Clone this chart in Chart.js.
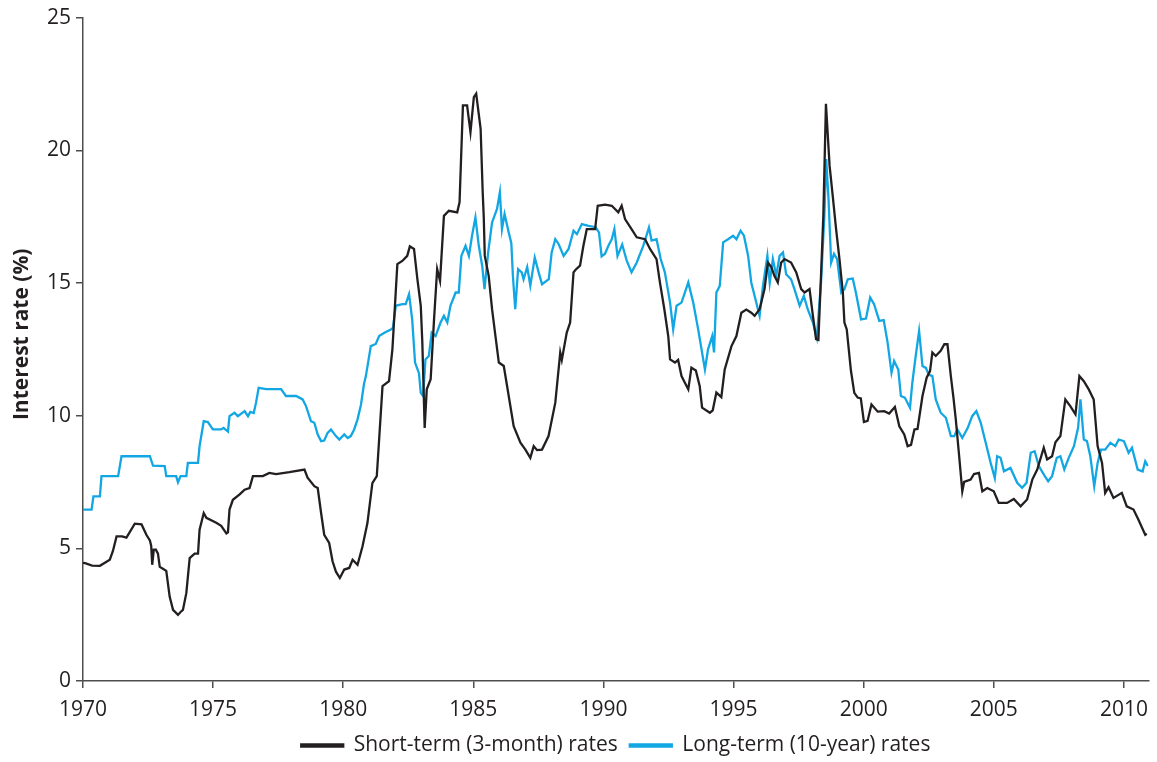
<!DOCTYPE html>
<html>
<head>
<meta charset="utf-8">
<script src="https://cdn.jsdelivr.net/npm/chart.js@4.4.1/dist/chart.umd.min.js"></script>
<style>
html,body{margin:0;padding:0;background:#fff;}
#wrap{width:1157px;height:762px;}
</style>
</head>
<body>
<div id="wrap"><canvas id="c" width="1157" height="762"></canvas></div>
<script>
const seriesNames = ["Short-term (3-month) rates", "Long-term (10-year) rates"];
const yAxisTitle = "Interest rate (%)";
const xTicks = [1970, 1975, 1980, 1985, 1990, 1995, 2000, 2005, 2010];
const yTicks = [0, 5, 10, 15, 20, 25];

const shortYears = [1970.0,1970.08,1970.35,1970.65,1971.03,1971.15,1971.29,1971.5,1971.67,1971.99,1972.25,1972.44,1972.57,1972.62,1972.66,1972.72,1972.8,1972.88,1972.95,1973.04,1973.2,1973.33,1973.46,1973.65,1973.75,1973.84,1973.97,1974.1,1974.29,1974.42,1974.48,1974.64,1974.74,1975.12,1975.31,1975.51,1975.57,1975.63,1975.76,1976.02,1976.21,1976.4,1976.53,1976.91,1977.16,1977.42,1977.93,1978.51,1978.63,1978.89,1979.02,1979.15,1979.27,1979.46,1979.59,1979.72,1979.87,1980.04,1980.23,1980.36,1980.55,1980.74,1980.93,1981.12,1981.29,1981.38,1981.51,1981.76,1981.89,1982.08,1982.27,1982.46,1982.56,1982.72,1982.85,1982.98,1983.04,1983.13,1983.21,1983.36,1983.49,1983.61,1983.72,1983.87,1984.06,1984.38,1984.47,1984.6,1984.76,1984.89,1985.02,1985.11,1985.28,1985.36,1985.4,1985.44,1985.59,1985.72,1985.85,1985.98,1986.17,1986.36,1986.55,1986.81,1987.0,1987.19,1987.32,1987.45,1987.64,1987.89,1988.15,1988.34,1988.4,1988.59,1988.72,1988.85,1988.93,1989.1,1989.23,1989.36,1989.68,1989.78,1990.06,1990.32,1990.57,1990.7,1990.83,1991.08,1991.28,1991.6,1991.79,1992.04,1992.17,1992.34,1992.49,1992.56,1992.75,1992.87,1993.0,1993.13,1993.26,1993.38,1993.55,1993.7,1993.79,1994.09,1994.2,1994.34,1994.53,1994.66,1994.92,1995.11,1995.3,1995.49,1995.68,1995.81,1996.0,1996.19,1996.32,1996.45,1996.57,1996.7,1996.83,1996.96,1997.21,1997.41,1997.6,1997.73,1997.92,1998.05,1998.17,1998.26,1998.36,1998.45,1998.55,1998.69,1998.81,1998.94,1999.07,1999.2,1999.26,1999.35,1999.51,1999.64,1999.77,1999.89,2000.01,2000.15,2000.3,2000.54,2000.79,2000.98,2001.2,2001.37,2001.56,2001.69,2001.82,2001.95,2002.07,2002.26,2002.42,2002.55,2002.64,2002.77,2002.96,2003.1,2003.22,2003.35,2003.45,2003.54,2003.67,2003.79,2003.86,2004.11,2004.24,2004.43,2004.56,2004.75,2005.0,2005.19,2005.51,2005.77,2006.03,2006.28,2006.48,2006.67,2006.92,2007.05,2007.24,2007.37,2007.56,2007.75,2007.94,2008.14,2008.29,2008.46,2008.65,2008.84,2008.99,2009.16,2009.28,2009.41,2009.6,2009.92,2010.11,2010.37,2010.56,2010.82,2010.88];
const shortRates = [4.45,4.44,4.35,4.34,4.57,4.9,5.45,5.45,5.4,5.93,5.9,5.5,5.3,5.1,4.38,4.95,4.95,4.8,4.3,4.25,4.15,3.18,2.68,2.49,2.6,2.68,3.31,4.63,4.8,4.8,5.7,6.33,6.15,5.96,5.85,5.56,5.6,6.46,6.83,7.03,7.21,7.27,7.72,7.72,7.84,7.8,7.87,7.97,7.66,7.34,7.27,6.33,5.51,5.2,4.51,4.12,3.88,4.2,4.26,4.57,4.38,5.07,5.95,7.46,7.72,9.1,11.11,11.3,12.5,15.71,15.83,16.02,16.38,16.28,15.14,14.14,12.75,9.54,10.99,11.37,13.63,15.52,15.08,17.53,17.72,17.66,18.04,21.69,21.69,20.68,22.0,22.13,20.81,18.42,17.5,16.02,15.27,14.01,13.0,12.0,11.87,10.74,9.6,8.98,8.72,8.41,8.85,8.7,8.72,9.23,10.49,12.38,12.1,13.13,13.51,15.4,15.5,15.65,16.4,17.03,17.03,17.91,17.95,17.91,17.66,17.91,17.41,17.03,16.72,16.65,16.28,15.9,15.02,14.01,13.0,12.12,12.0,12.1,11.49,11.24,10.99,11.81,11.7,11.11,10.3,10.11,10.2,10.87,10.7,11.74,12.62,13.0,13.88,14.0,13.88,13.76,14.01,14.77,15.77,15.6,15.27,15.02,15.77,15.9,15.77,15.4,14.77,14.64,14.77,13.76,12.88,12.85,15.27,17.53,21.75,19.42,18.29,17.03,15.9,14.64,13.51,13.25,11.7,10.86,10.68,10.65,9.76,9.8,10.42,10.15,10.17,10.08,10.33,9.6,9.29,8.85,8.9,9.48,9.5,10.74,11.43,11.68,12.38,12.25,12.44,12.69,12.69,11.49,10.68,9.86,8.47,7.15,7.5,7.59,7.8,7.84,7.15,7.27,7.15,6.71,6.71,6.86,6.58,6.84,7.59,7.97,8.79,8.35,8.47,9.0,9.23,10.61,10.36,10.05,11.49,11.3,10.99,10.61,8.85,8.22,7.09,7.3,6.9,7.09,6.58,6.46,6.08,5.51,5.55];

const longYears = [1970.0,1970.33,1970.4,1970.65,1970.71,1971.35,1971.48,1972.57,1972.69,1973.14,1973.2,1973.58,1973.65,1973.75,1973.97,1974.03,1974.42,1974.48,1974.64,1974.8,1974.99,1975.31,1975.4,1975.57,1975.63,1975.82,1975.95,1976.21,1976.34,1976.43,1976.56,1976.65,1976.75,1977.04,1977.61,1977.8,1978.19,1978.44,1978.57,1978.76,1978.89,1979.02,1979.15,1979.27,1979.4,1979.53,1979.72,1979.85,1980.04,1980.17,1980.29,1980.42,1980.55,1980.68,1980.8,1980.87,1981.06,1981.25,1981.38,1981.6,1981.83,1981.91,1982.02,1982.27,1982.4,1982.53,1982.65,1982.76,1982.91,1982.98,1983.07,1983.16,1983.29,1983.4,1983.55,1983.74,1983.87,1984.0,1984.12,1984.32,1984.44,1984.54,1984.7,1984.83,1984.95,1985.08,1985.21,1985.34,1985.43,1985.57,1985.72,1985.91,1986.02,1986.1,1986.2,1986.36,1986.46,1986.52,1986.61,1986.72,1986.86,1986.93,1987.07,1987.19,1987.36,1987.51,1987.64,1987.9,1988.01,1988.15,1988.28,1988.47,1988.66,1988.85,1988.98,1989.17,1989.43,1989.7,1989.83,1989.93,1990.06,1990.19,1990.32,1990.42,1990.54,1990.72,1990.89,1991.08,1991.28,1991.53,1991.75,1991.85,1992.04,1992.2,1992.36,1992.56,1992.68,1992.81,1993.0,1993.26,1993.45,1993.64,1993.9,1994.02,1994.18,1994.25,1994.34,1994.47,1994.6,1994.79,1994.98,1995.11,1995.27,1995.4,1995.56,1995.68,1995.81,1996.0,1996.13,1996.3,1996.39,1996.51,1996.64,1996.77,1996.9,1997.02,1997.21,1997.34,1997.54,1997.7,1997.85,1998.05,1998.2,1998.36,1998.49,1998.56,1998.65,1998.75,1998.86,1998.98,1999.14,1999.26,1999.39,1999.58,1999.7,1999.9,2000.09,2000.25,2000.4,2000.6,2000.77,2000.92,2001.07,2001.17,2001.33,2001.43,2001.58,2001.78,2001.87,2002.0,2002.13,2002.26,2002.39,2002.5,2002.64,2002.77,2002.96,2003.16,2003.35,2003.48,2003.6,2003.79,2004.0,2004.17,2004.33,2004.5,2004.69,2004.88,2005.04,2005.13,2005.26,2005.39,2005.64,2005.9,2006.09,2006.26,2006.42,2006.57,2006.73,2006.96,2007.09,2007.24,2007.42,2007.56,2007.71,2007.88,2008.08,2008.24,2008.33,2008.46,2008.58,2008.71,2008.86,2008.99,2009.12,2009.28,2009.48,2009.67,2009.8,2010.0,2010.18,2010.31,2010.53,2010.72,2010.82,2010.92];
const longRates = [6.46,6.46,6.96,6.96,7.72,7.72,8.47,8.47,8.12,8.1,7.72,7.72,7.49,7.72,7.72,8.22,8.22,8.85,9.79,9.76,9.48,9.48,9.54,9.4,9.98,10.11,9.98,10.17,9.98,10.14,10.1,10.49,11.05,11.0,11.0,10.74,10.74,10.61,10.36,9.79,9.73,9.29,9.04,9.06,9.35,9.48,9.23,9.1,9.29,9.16,9.23,9.48,9.86,10.4,11.2,11.49,12.62,12.7,13.0,13.13,13.25,13.3,14.14,14.2,14.2,14.58,13.63,12.0,11.6,10.86,10.74,12.12,12.25,13.13,13.0,13.51,13.76,13.51,14.14,14.64,14.64,16.02,16.4,16.02,16.78,17.47,16.4,15.65,14.77,16.15,17.28,17.79,18.42,17.03,17.6,16.9,16.5,15.27,14.01,15.52,15.4,15.14,15.6,14.9,15.96,15.4,14.95,15.14,16.15,16.65,16.46,16.02,16.28,16.97,16.84,17.22,17.15,17.1,16.9,16.0,16.1,16.4,16.65,17.03,16.02,16.45,15.85,15.4,15.77,16.4,17.09,16.6,16.65,15.9,15.4,14.26,13.25,14.14,14.26,15.02,14.26,13.25,11.74,12.5,13.0,12.38,14.64,14.89,16.53,16.65,16.78,16.65,16.97,16.78,16.02,15.02,14.51,13.76,14.89,16.02,15.0,15.9,15.27,16.02,16.15,15.33,15.14,14.77,14.14,14.51,14.01,13.51,12.94,15.0,17.53,19.67,18.16,15.77,16.1,15.9,14.64,14.77,15.14,15.17,14.64,13.63,13.66,14.45,14.2,13.57,13.6,12.75,11.62,12.06,11.74,10.74,10.68,10.3,11.24,12.25,13.19,11.87,11.8,11.55,11.49,10.61,10.11,9.92,9.23,9.23,9.48,9.16,9.54,9.98,10.17,9.73,8.98,8.22,7.65,8.47,8.41,7.9,8.03,7.47,7.28,7.47,8.6,8.66,8.1,7.72,7.53,7.72,8.41,8.47,7.97,8.41,8.85,9.54,10.61,9.1,9.04,8.47,7.34,8.22,8.72,8.72,8.98,8.85,9.1,9.04,8.6,8.79,7.97,7.9,8.28,8.1];

const shortData = shortYears.map((x, i) => ({x, y: shortRates[i]}));
const longData = longYears.map((x, i) => ({x, y: longRates[i]}));

const FONT = "'Open Sans', 'Noto Sans', sans-serif";
const INK = '#231f20';
const AXIS = '#4d4d4d';

// Draws the y-axis title (real canvas text) slightly above the axis centre, as in the original.
const yTitlePlugin = {
  id: 'yTitle',
  afterDraw(chart) {
    const ctx = chart.ctx;
    const a = chart.chartArea;
    ctx.save();
    ctx.translate(22, (a.top + a.bottom) / 2 - 15);
    ctx.rotate(-Math.PI / 2);
    ctx.font = "bold 21px " + FONT;
    ctx.fillStyle = INK;
    ctx.textAlign = 'center';
    ctx.textBaseline = 'middle';
    ctx.fillText(yAxisTitle, 0, 0);
    ctx.restore();
  }
};

new Chart(document.getElementById('c'), {
  type: 'line',
  data: {
    datasets: [
      {label: seriesNames[0], data: shortData, borderColor: INK, backgroundColor: INK, borderWidth: 2.3, pointRadius: 0, tension: 0, fill: false},
      {label: seriesNames[1], data: longData, borderColor: '#12a7e3', backgroundColor: '#12a7e3', borderWidth: 2.3, pointRadius: 0, tension: 0, fill: false}
    ]
  },
  plugins: [yTitlePlugin],
  options: {
    responsive: false,
    animation: false,
    devicePixelRatio: 1,
    layout: {padding: {top: 12, right: 4, left: 0, bottom: -4}},
    plugins: {
      tooltip: {enabled: false},
      legend: {
        position: 'bottom',
        fullSize: false,
        labels: {
          color: INK,
          font: {family: FONT, size: 21},
          boxWidth: 42,
          boxHeight: 2,
          padding: 12
        }
      }
    },
    scales: {
      x: {
        type: 'linear',
        min: 1970,
        max: 2010.95,
        afterBuildTicks: (s) => { s.ticks = xTicks.map(v => ({value: v})); },
        afterFit: (s) => { s.height = 42; },
        ticks: {
          includeBounds: false,
          color: INK,
          font: {family: FONT, size: 21},
          padding: 9,
          maxRotation: 0,
          autoSkip: false,
          callback: (v) => String(v)
        },
        grid: {display: true, drawOnChartArea: false, drawTicks: true, tickLength: 7, color: AXIS, lineWidth: 1.5},
        border: {display: true, color: AXIS, width: 1.5}
      },
      y: {
        type: 'linear',
        min: 0,
        max: 25,
        afterBuildTicks: (s) => { s.ticks = yTicks.map(v => ({value: v})); },
        afterFit: (s) => { s.width = 83; },
        title: {display: false, text: yAxisTitle},
        ticks: {color: INK, font: {family: FONT, size: 21}, padding: 5},
        grid: {display: true, drawOnChartArea: false, drawTicks: true, tickLength: 7, color: AXIS, lineWidth: 1.5},
        border: {display: true, color: AXIS, width: 1.5}
      }
    }
  }
});
</script>
</body>
</html>
